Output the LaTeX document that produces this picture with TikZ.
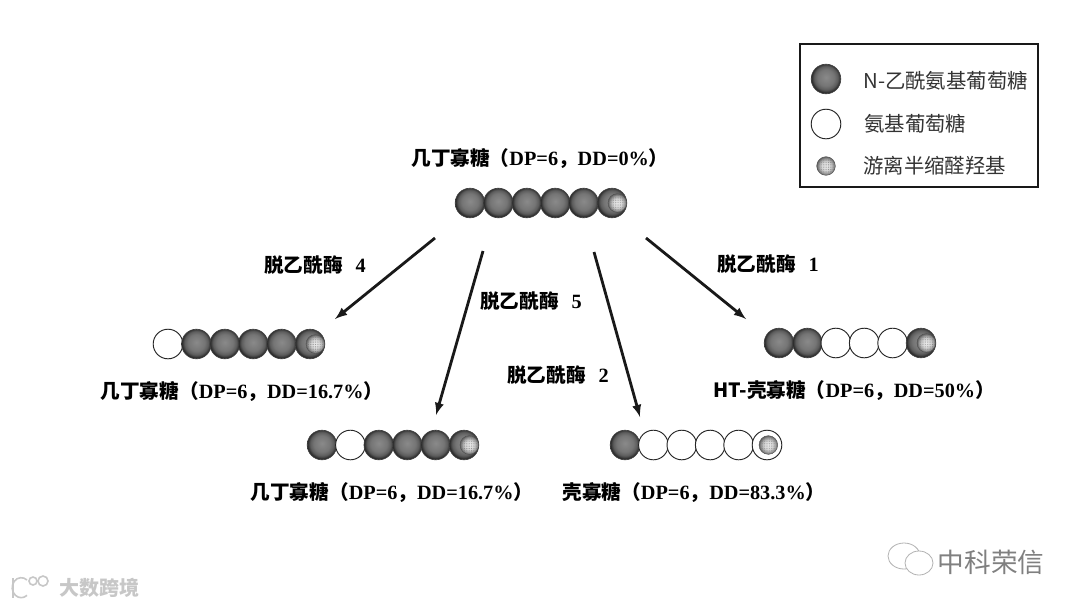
\documentclass[tikz,border=0pt]{standalone}
\usepackage{fontspec}
\setmainfont{Liberation Serif}
\newfontfamily\cjk{Noto Sans CJK SC}
\usetikzlibrary{positioning}
\usetikzlibrary{arrows}
\usetikzlibrary{patterns.meta}
\pgfdeclareradialshading{acetylball}{\pgfpoint{0pt}{3pt}}{
  color(0bp)=(black!46); color(14bp)=(black!54); color(20bp)=(black!64); color(25bp)=(black!85); color(50bp)=(black!85)}
\pgfdeclareradialshading{freeball}{\pgfpoint{0pt}{0pt}}{
  color(0bp)=(black!8); color(12bp)=(black!16); color(20bp)=(black!40); color(25bp)=(black!62); color(50bp)=(black!62)}
\newcommand{\cjkbit}[1]{{\cjk\fontsize{14.7}{16}\selectfont #1}}
\newcommand{\oligolabel}[2]{\cjkbit{#1（}DP=6\cjkbit{，}DD=#2\%\cjkbit{）}}
\tikzset{
  sugar_node/.style = {circle, inner sep=0pt, outer sep=0pt, minimum size=22.2pt},
  acetyl_node/.style = {sugar_node, shading=acetylball, draw=black!75, line width=0.5pt},
  amine_node/.style = {sugar_node, fill=white, draw=black!85, line width=0.7pt},
  free_end/.style = {sugar_node, shading=freeball, draw=black!70, line width=0.3pt, minimum size=14pt,
    postaction={pattern={Dots[distance=1.3pt, radius=.25pt]}, pattern color=black!55}},
  oligo_label/.style = {inner sep=0pt, font=\fontsize{15.2}{17}\selectfont\bfseries},
  enzyme_label/.style = {inner sep=0pt, font=\fontsize{15.2}{17}\selectfont\bfseries},
  legend_label/.style = {inner sep=0pt, anchor=west, text=black!80, font=\cjk\fontsize{15.3}{17}\selectfont},
  enzyme_arrow/.style = {-latex, line width=2.1pt, black!90}
}
\begin{document}
\begin{tikzpicture}[x=.75pt, y=-.75pt, node distance=-0.9pt]
      \useasboundingbox (0,0) rectangle (1080,608);
      \fill[white] (0,0) rectangle (1080,608);
      % substrate
      \node [oligo_label] (title) at (540,159) {\oligolabel{几丁寡糖}{0}};
      \node [acetyl_node] (t1) at (470,203) {};
      \node [acetyl_node, right=of t1] (t2) {};
      \node [acetyl_node, right=of t2] (t3) {};
      \node [acetyl_node, right=of t3] (t4) {};
      \node [acetyl_node, right=of t4] (t5) {};
      \node [acetyl_node, right=of t5] (t6) {};
      \node [free_end] (tf) at ([xshift=4pt]t6.center) {};
      % deacetylase 4
      \node [amine_node] (a1) at (168,344) {};
      \node [acetyl_node, right=of a1] (a2) {};
      \node [acetyl_node, right=of a2] (a3) {};
      \node [acetyl_node, right=of a3] (a4) {};
      \node [acetyl_node, right=of a4] (a5) {};
      \node [acetyl_node, right=of a5] (a6) {};
      \node [free_end] (af) at ([xshift=4pt]a6.center) {};
      \node [oligo_label] (alabel) at (242,392) {\oligolabel{几丁寡糖}{16.7}};
      % deacetylase 5
      \node [acetyl_node] (b1) at (322,445) {};
      \node [amine_node, right=of b1] (b2) {};
      \node [acetyl_node, right=of b2] (b3) {};
      \node [acetyl_node, right=of b3] (b4) {};
      \node [acetyl_node, right=of b4] (b5) {};
      \node [acetyl_node, right=of b5] (b6) {};
      \node [free_end] (bf) at ([xshift=4pt]b6.center) {};
      \node [oligo_label] (blabel) at (392,493) {\oligolabel{几丁寡糖}{16.7}};
      % deacetylase 2
      \node [acetyl_node] (c1) at (625,445) {};
      \node [amine_node, right=of c1] (c2) {};
      \node [amine_node, right=of c2] (c3) {};
      \node [amine_node, right=of c3] (c4) {};
      \node [amine_node, right=of c4] (c5) {};
      \node [amine_node, right=of c5] (c6) {};
      \node [free_end] (cf) at ([xshift=1pt]c6.center) {};
      \node [oligo_label] (clabel) at (694,493) {\oligolabel{壳寡糖}{83.3}};
      % deacetylase 1
      \node [acetyl_node] (d1) at (779,343) {};
      \node [acetyl_node, right=of d1] (d2) {};
      \node [amine_node, right=of d2] (d3) {};
      \node [amine_node, right=of d3] (d4) {};
      \node [amine_node, right=of d4] (d5) {};
      \node [acetyl_node, right=of d5] (d6) {};
      \node [free_end] (df) at ([xshift=4pt]d6.center) {};
      \node [oligo_label] (dlabel) at (854,391) {\cjkbit{HT-}\oligolabel{壳寡糖}{50}};
      % arrows
      \coordinate (s4) at (435,238);  \coordinate (e4) at (335,319);
      \coordinate (s5) at (483,251);  \coordinate (e5) at (436,415);
      \coordinate (s2) at (594,252);  \coordinate (e2) at (640,417);
      \coordinate (s1) at (646,238);  \coordinate (e1) at (746,319);
      \draw [enzyme_arrow] (s4) -- (e4);
      \draw [enzyme_arrow] (s5) -- (e5);
      \draw [enzyme_arrow] (s2) -- (e2);
      \draw [enzyme_arrow] (s1) -- (e1);
      \node [enzyme_label] (enz4) at (315,265) {\cjkbit{脱乙酰酶}\hspace{6pt} 4};
      \node [enzyme_label] (enz5) at (531,301) {\cjkbit{脱乙酰酶}\hspace{6pt} 5};
      \node [enzyme_label] (enz2) at (558,375) {\cjkbit{脱乙酰酶}\hspace{6pt} 2};
      \node [enzyme_label] (enz1) at (768,264) {\cjkbit{脱乙酰酶}\hspace{6pt} 1};
      % legend
      \draw [line width=1.5pt, black!90] (800,44) rectangle (1038,187);
      \node [acetyl_node] (key1) at (826,79) {};
      \node [amine_node] (key2) at (826,124) {};
      \node [free_end, minimum size=14pt] (key3) at (826,166) {};
      \node [legend_label] (text1) at (863,81) {N-乙酰氨基葡萄糖};
      \node [legend_label] (text2) at (864,124) {氨基葡萄糖};
      \node [legend_label] (text3) at (863,166) {游离半缩醛羟基};
      % watermarks
      \draw [black!30, fill=white, line width=.6pt] (904,556) ellipse (16 and 13);
      \draw [black!30, fill=white, line width=.6pt] (919,563) ellipse (14 and 12);
      \node [inner sep=0pt, text=black!50, font=\cjk\fontsize{20}{22}\selectfont] (mark1) at (991,562) {中科荣信};
      \node [inner sep=0pt, text=black!22, font=\cjk\bfseries\fontsize{15}{18}\selectfont] (mark2) at (99,588) {大数跨境};
      \draw [black!22, line width=1.2pt] (13,578) -- (13,598);
      \draw [black!22, line width=1.2pt] (27,580) arc (-50:-310:9 and 10);
      \draw [black!22, line width=1.2pt] (33,581) circle (4);
      \draw [black!22, line width=1.2pt] (43,581) circle (5);
\end{tikzpicture}
\end{document}
